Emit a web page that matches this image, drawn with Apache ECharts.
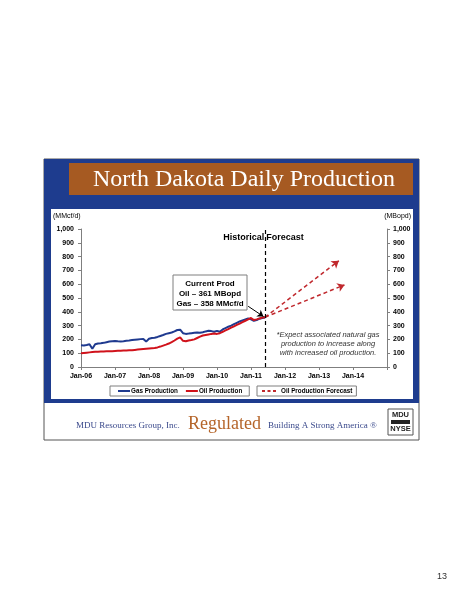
<!DOCTYPE html>
<html><head><meta charset="utf-8">
<script src="https://cdn.jsdelivr.net/npm/echarts@6/dist/echarts.min.js"></script>
<style>html,body{margin:0;padding:0;background:#fff}#c{width:464px;height:600px}</style>
</head><body><div id="c"></div>
<script>
// Month index 0 = Jan-06
const yearLabels = ['Jan-06','Jan-07','Jan-08','Jan-09','Jan-10','Jan-11','Jan-12','Jan-13','Jan-14'];
const yTicks = [0,100,200,300,400,500,600,700,800,900,1000];
// Gas production (MMcf/d), monthly Jan-06 .. Jun-11
const gasValues = [
 158,156,160,165,132,165,170,172,175,180,185,187,
 188,186,185,187,190,192,195,198,200,202,203,184,
 205,210,212,218,225,232,240,245,250,258,268,270,
 245,240,242,245,248,250,248,252,258,262,260,255,
 262,255,272,282,292,300,310,320,330,338,345,352,
 345,335,340,350,355,358
];
// Oil production (MBopd), monthly Jan-06 .. Jun-11
const oilValues = [
 99,102,104,106,108,110,111,112,113,114,115,115,
 116,117,118,119,120,121,122,124,126,128,130,132,
 134,136,138,142,148,155,162,170,180,192,205,215,
 190,186,192,195,200,210,220,228,232,236,240,242,
 240,245,255,265,275,285,295,305,315,325,335,345,
 355,340,345,352,358,361
];
const forecastStart = [65, 361];
const forecastHigh = [91, 770];
const forecastLow = [93, 595];
const forecastDivider = 65;

const gasData = gasValues.map((v,i)=>[i,v]);
const oilData = oilValues.map((v,i)=>[i,v]);

const chart = echarts.init(document.getElementById('c'));
const lblFont = {fontFamily:'Liberation Sans, Arial, sans-serif', fontWeight:'bold', fontSize:7, color:'#000'};
const legFont = {fontFamily:'"Liberation Sans", Arial, sans-serif', fontWeight:'bold', fontSize:6.3, color:'#000'};
const axisLine = {show:true, lineStyle:{color:'#7f7f7f', width:1}};
chart.setOption({
  animation:false,
  backgroundColor:'#fff',
  grid:{left:81, right:77, top:229, bottom:233},
  xAxis:{type:'value', min:0, max:108, interval:12,
    axisLine:axisLine, axisTick:{show:true, length:3, lineStyle:{color:'#7f7f7f'}},
    splitLine:{show:false},
    axisLabel:Object.assign({margin:6, formatter:v=>yearLabels[v/12]||''}, lblFont)},
  yAxis:[
    {type:'value', min:0, max:1000, interval:100, position:'left',
     axisLine:axisLine, axisTick:{show:true, length:3, lineStyle:{color:'#7f7f7f'}}, splitLine:{show:false},
     axisLabel:Object.assign({margin:7, formatter:v=>v.toLocaleString('en-US')}, lblFont)},
    {type:'value', min:0, max:1000, interval:100, position:'right',
     axisLine:axisLine, axisTick:{show:true, length:3, lineStyle:{color:'#7f7f7f'}}, splitLine:{show:false},
     axisLabel:Object.assign({margin:6, formatter:v=>v.toLocaleString('en-US')}, lblFont)}
  ],
  legend:[
    {data:['Gas Production','Oil Production'], left:110, top:386, orient:'horizontal', itemGap:8,
     icon:'rect', itemWidth:12, itemHeight:2, padding:[2,7,2,8], borderColor:'#7f7f7f', borderWidth:1,
     textStyle:Object.assign({}, legFont, {padding:[0,0,0,-4]}), selectedMode:false},
    {data:[{name:'Oil Production Forecast', icon:'path://M0,0h3v2h-3z M5.5,0h3v2h-3z M11,0h3v2h-3z'}],
     left:257, top:386, itemWidth:14, itemHeight:2,
     padding:[2,4,2,5], borderColor:'#7f7f7f', borderWidth:1,
     textStyle:Object.assign({}, legFont), selectedMode:false}
  ],
  series:[
    {name:'Gas Production', type:'line', data:gasData, showSymbol:false, symbol:'none',
     lineStyle:{color:'#1F3A8F', width:2}, itemStyle:{color:'#1F3A8F'}, z:3},
    {name:'Oil Production', type:'line', data:oilData, showSymbol:false, symbol:'none',
     lineStyle:{color:'#D0121B', width:2}, itemStyle:{color:'#D0121B'}, z:4,
     markLine:{silent:true, symbol:['none','arrow'], symbolSize:6,
       lineStyle:{color:'#000', width:1, type:'solid'}, label:{show:false},
       data:[[{coord:[59,440]},{coord:[64.4,366]}]]}},
    {name:'Oil Production Forecast', type:'line', data:[forecastStart], showSymbol:false, symbol:'none',
     lineStyle:{color:'#C0282D', width:1.5, type:[4,3]}, itemStyle:{color:'#C0282D'}, z:5,
     markLine:{silent:true, symbol:['none','arrow'], symbolSize:7,
       lineStyle:{color:'#C0282D', width:1.5, type:[4,3]}, label:{show:false},
       data:[
         [{coord:forecastStart},{coord:forecastHigh}],
         [{coord:forecastStart},{coord:forecastLow}],
         [{coord:[forecastDivider,0], symbol:'none', lineStyle:{color:'#000',width:1.2,type:[4,3]}},
          {coord:[forecastDivider,1000], symbol:'none'}]
       ]}}
  ]
});

const px = chart.convertToPixel({gridIndex:0}, [forecastDivider, 0]);
const divX = px[0];
chart.setOption({graphic:[
  // slide background frame
  {type:'rect', z:-20, shape:{x:44,y:159,width:375,height:281}, style:{fill:'#fff', stroke:'#555', lineWidth:1}},
  {type:'rect', z:-19, shape:{x:44,y:159,width:375,height:244}, style:{fill:'#1E3C8E'}},
  {type:'rect', z:-18, shape:{x:69,y:163,width:344,height:32}, style:{fill:'#A65A22'}},
  {type:'text', z:-17, x:244, y:180, style:{text:'North Dakota Daily Production', fill:'#fff',
    font:'24px "Liberation Serif", "DejaVu Serif", serif', align:'center', verticalAlign:'middle'}},
  {type:'rect', z:-16, shape:{x:51,y:209,width:362,height:190}, style:{fill:'#fff'}},
  {type:'text', z:-15, x:53, y:216, style:{text:'(MMcf/d)', fill:'#000', font:'7px "Liberation Sans", Arial, sans-serif', verticalAlign:'middle'}},
  {type:'text', z:-15, x:411, y:216, style:{text:'(MBopd)', fill:'#000', font:'7px "Liberation Sans", Arial, sans-serif', align:'right', verticalAlign:'middle'}},
  // Historical / Forecast
  {type:'text', z:50, x:divX-1, y:238, style:{text:'Historical', fill:'#000', font:'bold 9px "Liberation Sans", Arial, sans-serif', align:'right', verticalAlign:'middle'}},
  {type:'text', z:50, x:divX+1, y:238, style:{text:'Forecast', fill:'#000', font:'bold 9px "Liberation Sans", Arial, sans-serif', align:'left', verticalAlign:'middle'}},
  // Current prod box
  {type:'rect', z:50, shape:{x:173,y:275,width:74,height:35}, style:{fill:'#fff', stroke:'#7f7f7f', lineWidth:1}},
  {type:'text', z:51, x:210, y:284, style:{text:'Current Prod', fill:'#000', font:'bold 8px "Liberation Sans", Arial, sans-serif', align:'center', verticalAlign:'middle'}},
  {type:'text', z:51, x:210, y:294, style:{text:'Oil \u2013 361 MBopd', fill:'#000', font:'bold 8px "Liberation Sans", Arial, sans-serif', align:'center', verticalAlign:'middle'}},
  {type:'text', z:51, x:210, y:303.5, style:{text:'Gas \u2013 358 MMcf/d', fill:'#000', font:'bold 8px "Liberation Sans", Arial, sans-serif', align:'center', verticalAlign:'middle'}},
  // note
  {type:'text', z:50, x:328, y:344, style:{text:'*Expect associated natural gas\nproduction to increase along\nwith increased oil production.', fill:'#333', lineHeight:9,
    font:'italic 7.5px "Liberation Sans", Arial, sans-serif', align:'center', verticalAlign:'middle'}},
  // footer
  {type:'text', z:-15, x:76, y:426, style:{text:'MDU Resources Group, Inc.', fill:'#3B4A8C', font:'9px "Liberation Serif", serif', verticalAlign:'middle'}},
  {type:'text', z:-15, x:188, y:424, style:{text:'Regulated', fill:'#B5652A', font:'18px "Liberation Serif", serif', verticalAlign:'middle'}},
  {type:'text', z:-15, x:268, y:426, style:{text:'Building A Strong America \u00AE', fill:'#3B4A8C', font:'9px "Liberation Serif", serif', verticalAlign:'middle'}},
  {type:'rect', z:-15, shape:{x:388,y:409,width:25,height:26}, style:{fill:'#fff', stroke:'#555', lineWidth:1}},
  {type:'text', z:-14, x:400.5, y:415, style:{text:'MDU', fill:'#222', font:'bold 7.5px "Liberation Sans", Arial, sans-serif', align:'center', verticalAlign:'middle'}},
  {type:'rect', z:-14, shape:{x:391,y:420,width:19,height:4}, style:{fill:'#222'}},
  {type:'text', z:-14, x:400.5, y:429, style:{text:'NYSE', fill:'#222', font:'bold 7.5px "Liberation Sans", Arial, sans-serif', align:'center', verticalAlign:'middle'}},
  // page number
  {type:'text', z:-15, x:437, y:577, style:{text:'13', fill:'#333', font:'9px "Liberation Sans", Arial, sans-serif', verticalAlign:'middle'}}
]});
</script></body></html>
